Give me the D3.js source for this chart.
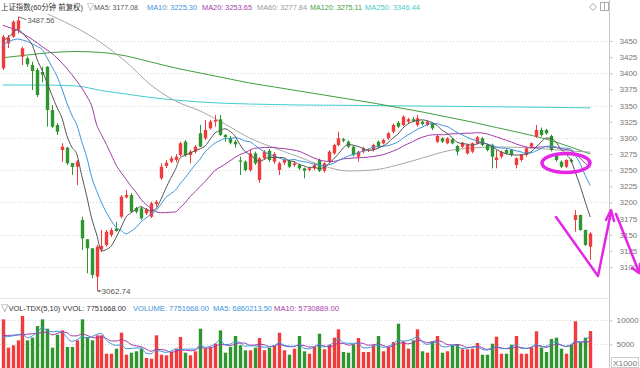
<!DOCTYPE html>
<html><head><meta charset="utf-8">
<script src="https://cdn.jsdelivr.net/npm/d3@7"></script>
<style>html,body{margin:0;padding:0;background:#fff;}svg{display:block;}</style>
</head><body>
<script>
// ---------------- data ----------------
const opens  = [3407.7,3446.4,3456.7,3468.0,3425.7,3423.2,3412.8,3405.1,3402.0,3410.2,3343.1,3319.9,3281.2,3284.8,3261.0,3255.3,3172.8,3142.9,3128.9,3085.0,3127.4,3134.0,3149.6,3159.8,3177.9,3207.9,3211.5,3191.4,3190.9,3183.1,3177.9,3197.6,3237.4,3256.4,3263.1,3265.7,3273.5,3294.1,3273.5,3278.6,3307.1,3299.3,3314.8,3325.1,3328.7,3304.4,3300.2,3294.0,3265.0,3263.1,3250.2,3276.0,3234.7,3268.3,3280.1,3263.1,3250.2,3261.5,3264.2,3258.0,3258.0,3252.8,3250.2,3252.8,3265.7,3249.1,3263.1,3276.0,3288.9,3297.8,3294.1,3286.3,3270.9,3278.6,3279.9,3281.2,3294.1,3291.6,3299.3,3309.5,3323.5,3319.9,3325.1,3328.8,3319.9,3325.0,3319.9,3321.5,3294.0,3299.3,3291.6,3297.8,3287.4,3286.3,3276.0,3278.6,3291.6,3299.3,3289.0,3289.0,3265.7,3270.9,3281.2,3281.2,3257.9,3265.7,3273.5,3286.3,3301.8,3312.2,3312.2,3302.9,3273.5,3263.1,3255.3,3265.7,3172.8,3180.5,3157.3,3131.4];
const highs  = [3459.3,3459.3,3482.0,3487.56,3441.2,3426.0,3418.0,3408.2,3410.0,3411.0,3350.9,3323.0,3291.6,3286.0,3261.0,3265.7,3177.9,3143.4,3129.4,3134.0,3157.3,3157.3,3160.4,3170.0,3211.5,3219.3,3214.6,3193.4,3193.4,3191.4,3201.1,3203.7,3260.6,3265.7,3271.7,3274.8,3293.9,3296.7,3281.2,3288.8,3319.9,3327.7,3328.0,3335.4,3335.4,3306.0,3303.0,3297.0,3271.0,3265.0,3281.2,3278.6,3270.3,3281.0,3283.0,3278.0,3263.1,3268.0,3266.0,3263.0,3260.0,3254.0,3255.0,3261.0,3268.0,3262.0,3281.0,3291.0,3309.5,3300.0,3296.0,3288.0,3280.0,3286.0,3283.0,3291.0,3296.0,3299.0,3309.0,3322.0,3326.0,3335.0,3331.0,3332.0,3335.4,3327.0,3327.0,3324.0,3305.0,3301.0,3301.0,3300.0,3289.0,3294.0,3291.0,3293.0,3303.0,3301.0,3291.0,3291.0,3281.2,3280.0,3283.0,3283.0,3270.0,3275.0,3286.0,3293.0,3320.0,3316.0,3314.0,3305.0,3275.0,3265.0,3267.0,3268.0,3188.3,3181.0,3158.0,3154.0];
const lows   = [3405.1,3439.2,3455.0,3462.0,3412.8,3410.0,3374.1,3363.3,3386.0,3317.3,3315.0,3304.4,3263.0,3258.0,3242.5,3227.0,3126.3,3090.2,3082.5,3062.74,3123.0,3131.4,3146.5,3154.7,3175.4,3206.4,3185.0,3183.0,3172.8,3180.5,3175.9,3193.4,3234.7,3253.3,3261.0,3262.0,3271.0,3270.9,3260.6,3276.0,3285.8,3296.7,3313.0,3317.3,3303.0,3294.0,3290.0,3285.0,3242.5,3248.0,3247.6,3258.0,3230.1,3266.0,3263.0,3260.0,3242.5,3258.0,3253.0,3255.0,3250.0,3237.4,3248.0,3250.0,3247.0,3246.0,3261.0,3274.0,3287.0,3293.0,3284.0,3271.0,3263.1,3276.0,3278.0,3279.0,3284.0,3290.0,3297.0,3307.0,3315.0,3318.0,3323.0,3324.0,3317.3,3319.0,3318.0,3312.0,3292.0,3292.0,3290.0,3290.0,3273.0,3284.0,3274.0,3276.0,3290.0,3287.0,3279.0,3252.8,3252.8,3268.0,3274.0,3271.0,3252.8,3263.0,3271.0,3284.0,3300.0,3302.0,3305.0,3279.0,3263.0,3253.0,3253.0,3261.0,3154.7,3156.0,3133.0,3110.8];
const closes = [3456.7,3455.1,3479.9,3482.0,3438.7,3413.9,3403.5,3366.4,3398.0,3343.1,3317.3,3309.5,3286.3,3260.6,3255.0,3263.1,3144.4,3128.9,3087.6,3131.4,3132.5,3154.7,3157.3,3155.7,3208.9,3211.5,3185.6,3185.6,3175.4,3189.4,3198.6,3201.1,3255.3,3261.5,3268.3,3270.9,3291.6,3273.5,3278.6,3286.3,3286.3,3312.2,3325.1,3327.7,3304.4,3300.9,3292.5,3290.0,3263.0,3250.2,3276.0,3260.6,3268.3,3278.6,3265.7,3275.0,3260.6,3265.7,3255.3,3260.6,3252.8,3249.1,3252.8,3258.0,3249.1,3260.6,3278.6,3288.9,3299.3,3295.6,3286.3,3273.5,3278.6,3283.9,3281.2,3289.0,3286.3,3296.7,3307.1,3319.9,3317.3,3332.8,3328.8,3326.0,3330.3,3321.5,3325.0,3314.8,3302.9,3294.1,3299.3,3291.6,3278.6,3292.5,3289.0,3291.6,3300.9,3289.0,3281.2,3270.9,3269.8,3278.6,3276.0,3273.5,3268.3,3273.5,3283.9,3291.6,3312.2,3304.4,3307.0,3281.2,3265.7,3255.3,3265.7,3263.1,3180.5,3157.3,3134.0,3152.0];
// volume, x1000
const volumes = [10200,4300,4800,5830,10900,5830,6380,8800,10200,8250,4300,7000,7900,4440,4440,5830,10200,6520,5830,6870,6870,3040,3040,4090,7420,2830,3250,3540,4090,2150,2000,6870,2830,2700,3400,4090,6520,3250,2700,3540,8250,4090,4300,5130,7900,3250,4440,6730,4800,3750,3750,4300,6310,3750,4300,4800,7420,3750,2830,4090,6730,3540,3040,4440,7210,3960,4920,6380,8120,3400,3250,4920,6310,3400,3400,4800,6730,3540,4440,5480,9290,5620,4090,5830,8120,3540,3250,5620,6730,3250,3540,4800,4920,3960,3960,4090,5270,2830,2830,5130,6590,3040,3040,4920,6730,3040,3040,4300,7700,4300,3400,6100,6380,4090,3040,4920,9790,5460,6380,7751.668];
// MA heads (before a full window exists)
const ma5Head  = [3450.0,3455.0,3462.0,3468.0];
const ma10Head = [3442.3,3448.5,3451.5,3453.1,3451.5,3449.2,3445.4,3441.5,3436.8];
const ma20Head = [3474.3,3471.8,3469.2,3466.3,3461.6,3457.3,3452.3,3446.9,3441.0,3436.1,3430.6,3423.7,3415.9,3407.4,3398.1,3388.1,3377.2,3364.8,3350.1];
const vma5Head  = [6520,6600,6750,6950];
const vma10Head = [6810,6850,6900,6950,7000,7100,7200,7300,7450];
// long MAs at sample bar indices
const maIdx  = [0,5,10,15,20,25,30,35,40,45,50,55,60,65,70,75,80,85,90,95,100,105,110,115,119];
const ma60   = [3512,3505,3488.7,3470.1,3446.9,3417.5,3381.9,3357.1,3341.6,3321.5,3299.8,3284.3,3270.4,3256.4,3248.7,3250.2,3258,3268.8,3279.6,3284.3,3285.8,3285.1,3282.7,3279.6,3277.84];
const ma120  = [3424.1,3428.3,3432.2,3433.7,3432.2,3426.8,3417.5,3408.2,3400.4,3392.7,3385,3378.8,3372.6,3366.4,3360.2,3354,3347,3340,3332.3,3324.6,3316,3307.5,3298.2,3285.8,3275.11];
const ma250  = [3381.9,3381.8,3381.6,3380.3,3373.3,3367.9,3362.5,3358.6,3355.5,3353.5,3352.4,3351.6,3350.9,3350.6,3350.4,3350.0,3349.6,3349.2,3348.9,3348.5,3348.1,3347.7,3347.3,3346.8,3346.44];
const priceTicks = [3100,3125,3150,3175,3200,3225,3250,3275,3300,3325,3350,3375,3400,3425,3450];
const volTicks = [5000,10000];
const topLegend = ["上证指数(60分钟 前复权)","▽MA5: 3177.08","MA10: 3225.30","MA20: 3253.65","MA60: 3277.84","MA120: 3275.11","MA250: 3346.44"];
const volLegend = ["▽VOL-TDX(5,10) VVOL: 7751668.00","VOLUME: 7751668.00","MA5: 6860213.50","MA10: 5730889.00"];
const hiLabel = "3487.56", loLabel = "3062.74";

// ---------------- drawing ----------------
const W=640,H=368;
const C = {red:"#f03c3c", green:"#2f962f", ma5:"#555555", ma10:"#3d94dc", ma20:"#a23aa8", ma60:"#a8a8a8", ma120:"#3f9e3f", ma250:"#44cccc", grid:"#d6d6d6", axis:"#c8c8c8", text:"#777", mag:"#e526e5"};
const FONT = "'Liberation Sans','Noto Sans CJK SC',sans-serif";
const svg = d3.select("body").append("svg").attr("width",W).attr("height",H).style("font-family",FONT);

const n = closes.length;
const x = d3.scaleLinear().domain([0,n-1]).range([2.7,590.3]);
const y = d3.scaleLinear().domain([3100,3450]).range([267,41]);
const yv = d3.scaleLinear().domain([0,10000]).range([368.3,320.3]);

const defs = svg.append("defs");
defs.append("clipPath").attr("id","cMain").append("rect").attr("x",0).attr("y",14).attr("width",608).attr("height",282);
defs.append("clipPath").attr("id","cVol").append("rect").attr("x",0).attr("y",313).attr("width",608).attr("height",56);

// gridlines
svg.append("g").selectAll("line").data(priceTicks.filter(t=>t%50===0)).join("line")
  .attr("x1",0).attr("x2",608).attr("y1",d=>Math.round(y(d))+0.5).attr("y2",d=>Math.round(y(d))+0.5)
  .attr("stroke",C.grid).attr("stroke-dasharray","1,2");
svg.append("g").selectAll("line").data(volTicks).join("line")
  .attr("x1",0).attr("x2",608).attr("y1",d=>Math.round(yv(d))+0.5).attr("y2",d=>Math.round(yv(d))+0.5)
  .attr("stroke",C.grid).attr("stroke-dasharray","1,2");

// frame lines
svg.append("line").attr("x1",609.5).attr("x2",609.5).attr("y1",0).attr("y2",H).attr("stroke",C.axis);
svg.append("line").attr("x1",0).attr("x2",609).attr("y1",298.5).attr("y2",298.5).attr("stroke","#e6e6e6");

// axes
const ax = svg.append("g").attr("transform","translate(609.5,0)")
  .call(d3.axisRight(y).tickValues(priceTicks).tickSize(3).tickPadding(7).tickFormat(d3.format("d")));
ax.select(".domain").remove();
ax.selectAll("line").attr("stroke",C.axis);
ax.selectAll("text").attr("fill",C.text).style("font-size","8px").style("font-family",FONT);
const av = svg.append("g").attr("transform","translate(609.5,0)")
  .call(d3.axisRight(yv).tickValues(volTicks).tickSize(3).tickPadding(4).tickFormat(d3.format("d")));
av.select(".domain").remove();
av.selectAll("line").attr("stroke",C.axis);
av.selectAll("text").attr("fill",C.text).style("font-size","8px").style("font-family",FONT);
svg.append("rect").attr("x",611.5).attr("y",357.5).attr("width",27).attr("height",10).attr("fill","none").attr("stroke","#ccc");
svg.append("text").attr("x",613).attr("y",365.5).text("X1000").attr("fill",C.text).style("font-size","7.5px").attr("textLength",24).attr("lengthAdjust","spacingAndGlyphs");

// moving averages
function rolling(arr, w, head){ return arr.map((_,i)=> i < w-1 ? head[i] : d3.mean(arr.slice(i-w+1,i+1))); }
const ma5 = rolling(closes,5,ma5Head);
const ma10 = rolling(closes,10,ma10Head);
const ma20 = rolling(closes,20,ma20Head);
const gMain = svg.append("g").attr("clip-path","url(#cMain)");
const lineI = d3.line().x((d,i)=>x(i)).y(d=>y(d)).curve(d3.curveMonotoneX);
const lineS = d3.line().x(d=>x(d[0])).y(d=>y(d[1])).curve(d3.curveMonotoneX);
[[ma250,C.ma250],[ma120,C.ma120],[ma60,C.ma60]].forEach(([arr,col])=>{
  gMain.append("path").attr("d",lineS(maIdx.map((k,j)=>[k,arr[j]]))).attr("fill","none").attr("stroke",col).attr("stroke-width",1);
});

// candles
const cg = gMain.append("g");
const up = i => closes[i] >= opens[i];
const idx = d3.range(n);
cg.selectAll("line").data(idx).join("line")
  .attr("x1",i=>Math.round(x(i))+0.5).attr("x2",i=>Math.round(x(i))+0.5)
  .attr("y1",i=>y(highs[i])).attr("y2",i=>y(lows[i]))
  .attr("stroke",i=>up(i)?C.red:C.green);
cg.selectAll("rect").data(idx).join("rect")
  .attr("x",i=>Math.round(x(i))-1.2).attr("width",3.4)
  .attr("y",i=>y(Math.max(opens[i],closes[i])))
  .attr("height",i=>Math.max(1,Math.abs(y(opens[i])-y(closes[i]))))
  .attr("fill",i=>up(i)?C.red:C.green);

[[ma20,C.ma20],[ma10,C.ma10],[ma5,C.ma5]].forEach(([arr,col])=>{
  gMain.append("path").attr("d",lineI(arr)).attr("fill","none").attr("stroke",col).attr("stroke-width",1);
});

// high / low markers
const iHi = highs.indexOf(d3.max(highs)), iLo = lows.indexOf(d3.min(lows));
svg.append("line").attr("x1",x(iHi)+1).attr("y1",y(highs[iHi])).attr("x2",x(iHi)+9).attr("y2",y(highs[iHi])+3).attr("stroke","#777");
svg.append("text").attr("x",x(iHi)+10).attr("y",y(highs[iHi])+6).text(hiLabel).attr("fill","#555").style("font-size","8px").attr("textLength",27).attr("lengthAdjust","spacingAndGlyphs");
svg.append("line").attr("x1",x(iLo)+1).attr("y1",y(lows[iLo])).attr("x2",x(iLo)+5).attr("y2",y(lows[iLo])).attr("stroke","#777");
svg.append("path").attr("d",`M${x(iLo)+1},${y(lows[iLo])}l2.5,-1.5v3z`).attr("fill","#777");
svg.append("text").attr("x",x(iLo)+5).attr("y",y(lows[iLo])+3).text(loLabel).attr("fill","#555").style("font-size","8px").attr("textLength",29).attr("lengthAdjust","spacingAndGlyphs");

// volume bars
const gv = svg.append("g").attr("clip-path","url(#cVol)");
gv.selectAll("rect").data(idx).join("rect")
  .attr("x",i=>Math.round(x(i))-1.2).attr("width",3.4)
  .attr("y",i=>yv(volumes[i])).attr("height",i=>yv(0)-yv(volumes[i]))
  .attr("fill",i=>up(i)?C.red:C.green);
const vma5 = rolling(volumes,5,vma5Head);
const vma10 = rolling(volumes,10,vma10Head);
const lineV = d3.line().x((d,i)=>x(i)).y(d=>yv(d)).curve(d3.curveMonotoneX);
gv.append("path").attr("d",lineV(vma10)).attr("fill","none").attr("stroke",C.ma20).attr("stroke-width",1);
gv.append("path").attr("d",lineV(vma5)).attr("fill","none").attr("stroke",C.ma10).attr("stroke-width",1);

// legends (positions / widths fitted to the reference's narrow font)
const topX = [1,87,147,202,257,310,365];
const topW = [82,51,50,50,50,52,55];
const topF = [7.6,7.8,7.8,7.8,7.8,7.8,7.8];
const topC = ["#333",C.ma5,C.ma10,C.ma20,"#9a9a9a",C.ma120,C.ma250];
svg.append("g").selectAll("text").data(topLegend).join("text")
  .attr("x",(d,i)=>topX[i]).attr("y",10).text(d=>d).attr("fill",(d,i)=>topC[i]).style("font-size",(d,i)=>topF[i]+"px")
  .attr("textLength",(d,i)=>topW[i]).attr("lengthAdjust","spacingAndGlyphs");
const volX = [1,133,213,274];
const volW = [125,76,59,65];
const volC = ["#333",C.ma10,C.ma10,C.ma20];
svg.append("g").selectAll("text").data(volLegend).join("text")
  .attr("x",(d,i)=>volX[i]).attr("y",311).text(d=>d).attr("fill",(d,i)=>volC[i]).style("font-size","7.6px")
  .attr("textLength",(d,i)=>volW[i]).attr("lengthAdjust","spacingAndGlyphs");

// top-right icons
svg.append("path").attr("d","M593,3.5l3.5,3.5l-3.5,3.5l-3.5,-3.5z").attr("fill","none").attr("stroke","#aaa");
svg.append("rect").attr("x",600.5).attr("y",2.5).attr("width",8).attr("height",8).attr("fill","none").attr("stroke","#aaa");
svg.append("line").attr("x1",604.5).attr("x2",604.5).attr("y1",2.5).attr("y2",10.5).attr("stroke","#aaa");

// magenta annotations
const ann = svg.append("g").attr("fill","none").attr("stroke",C.mag).attr("stroke-linecap","round").attr("stroke-linejoin","round");
ann.append("ellipse").attr("cx",566).attr("cy",163).attr("rx",24).attr("ry",9.5).attr("stroke-width",3.5);
ann.append("path").attr("d","M556,217L598,276L611,212").attr("stroke-width",2.5);
ann.append("path").attr("d","M606,220L611,210L614,221").attr("stroke-width",2.5);
ann.append("path").attr("d","M616,214L639,272").attr("stroke-width",2.5);
ann.append("path").attr("d","M632,268L639,273L640,264").attr("stroke-width",2.5);
</script>
</body></html>
